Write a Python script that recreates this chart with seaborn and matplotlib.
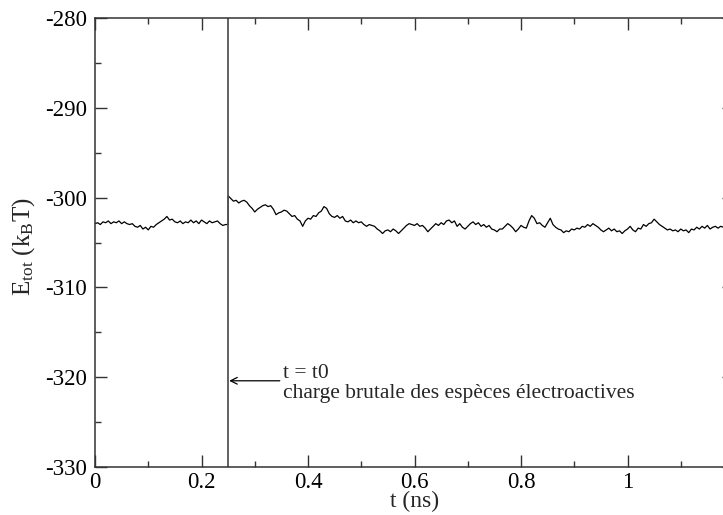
import numpy as np
import pandas as pd
import matplotlib
matplotlib.use("Agg")
import matplotlib.pyplot as plt
import seaborn as sns
from matplotlib.ticker import MultipleLocator, FixedLocator

# ---- data ----
t_step = 0.005
e_before = [
    -302.9, -302.8, -303.0, -302.7, -302.8, -302.6, -302.9, -302.7, -302.8, -302.6,
    -302.9, -302.7, -302.9, -303.0, -302.9, -303.2, -303.3, -303.1, -303.5, -303.3,
    -303.6, -303.2, -303.3, -303.0, -302.8, -302.6, -302.4, -302.1, -302.5, -302.4,
    -302.7, -302.8, -302.6, -302.9, -302.7, -302.8, -302.5, -302.8, -302.6, -302.9,
    -302.5, -302.7, -302.9, -302.6, -302.8, -302.7, -302.6, -302.9, -303.1, -303.0,
    -303.0,
]
e_after = [
    -299.8,
    -300.1, -300.4, -300.3, -300.6, -300.4, -300.3, -300.5, -300.9, -301.2, -301.6,
    -301.3, -301.1, -300.9, -300.8, -301.0, -300.9, -301.3, -301.9, -301.7, -301.6,
    -301.4, -301.5, -301.8, -302.1, -302.0, -302.4, -302.6, -303.2, -302.6, -302.3,
    -302.4, -302.0, -302.1, -301.7, -301.5, -301.0, -301.2, -301.8, -302.1, -302.2,
    -302.0, -302.3, -302.1, -302.6, -302.7, -302.5, -302.8, -302.6, -302.8, -302.7,
    -303.0, -303.2, -303.0, -303.1, -303.2, -303.5, -303.7, -304.0, -303.7, -303.6,
    -303.8, -303.5, -303.7, -304.0, -303.7, -303.4, -303.1, -302.9, -303.0, -303.1,
    -302.9, -303.2, -303.1, -303.4, -303.8, -303.5, -303.2, -302.9, -303.1, -302.8,
    -303.0, -302.6, -302.5, -302.8, -302.6, -303.2, -302.9, -303.3, -303.5, -303.2,
    -302.9, -302.7, -303.0, -302.8, -303.2, -303.0, -303.3, -303.1, -303.5, -303.6,
    -303.8, -303.5, -303.5, -303.2, -302.9, -303.1, -303.4, -303.8, -303.5, -303.1,
    -303.3, -303.4, -302.6, -302.0, -302.3, -302.9, -302.8, -303.1, -303.3, -302.8,
    -302.3, -303.0, -303.3, -303.5, -303.6, -303.9, -303.7, -303.8, -303.5, -303.6,
    -303.4, -303.5, -303.2, -303.3, -303.0, -303.2, -302.9, -303.1, -303.3, -303.6,
    -303.8, -303.6, -303.4, -303.7, -303.5, -303.8, -303.7, -304.0, -303.7, -303.5,
    -303.2, -303.6, -303.8, -303.4, -303.5, -303.0, -303.2, -302.9, -302.8, -302.4,
    -302.7, -303.0, -303.2, -303.4, -303.6, -303.5, -303.7, -303.6, -303.8, -303.5,
    -303.7, -303.6, -303.9, -303.5, -303.6, -303.3, -303.5, -303.2, -303.4, -303.1,
    -303.5, -303.3, -303.2, -303.4, -303.2, -303.3, -303.1, -303.4, -303.3, -303.2,
]
t0 = 0.25
x_ticks = [0, 0.2, 0.4, 0.6, 0.8, 1.0]
x_tick_labels = ["0", "0.2", "0.4", "0.6", "0.8", "1"]
annot_lines = ["t = t0", "charge brutale des espèces électroactives"]
x_label = "t (ns)"
y_label = r"E$_{\mathrm{tot}}$ (k$_{\mathrm{B}}$T)"

t_before = np.arange(len(e_before)) * t_step
t_after = t0 + np.arange(len(e_after)) * t_step
df = pd.DataFrame({
    "t": np.concatenate([t_before, t_after]),
    "E": np.array(e_before + e_after),
})

# ---- style ----
sns.set_theme(style="ticks")
plt.rcParams["font.family"] = ["Liberation Serif", "DejaVu Serif"]
plt.rcParams["mathtext.fontset"] = "custom"
plt.rcParams["mathtext.rm"] = "Liberation Serif"
plt.rcParams["mathtext.it"] = "Liberation Serif:italic"
plt.rcParams["axes.unicode_minus"] = False

fig = plt.figure(figsize=(7.23, 5.15), dpi=100)
ax = fig.add_axes([95 / 723, 48 / 515, 639 / 723, 449 / 515])

sns.lineplot(data=df, x="t", y="E", color="black", linewidth=0.9, ax=ax,
             estimator=None, sort=False)

ax.axvline(t0, color="#555555", linewidth=1.3)

ax.set_xlim(0, 1.2)
ax.set_ylim(-330, -280)
ax.xaxis.set_major_locator(FixedLocator(x_ticks))
ax.set_xticklabels(x_tick_labels)
ax.xaxis.set_minor_locator(MultipleLocator(0.1))
ax.yaxis.set_major_locator(MultipleLocator(10))
ax.yaxis.set_minor_locator(MultipleLocator(5))

ax.tick_params(which="both", direction="in", top=True, right=True,
               color="#333333", width=1.0, labelsize=16.5, labelcolor="black")
ax.tick_params(which="major", length=8.6, pad=6)
ax.tick_params(axis="x", which="major", pad=3.5)
ax.tick_params(which="minor", length=4.3)
for s in ax.spines.values():
    s.set_color("#333333")
    s.set_linewidth(1.1)

ax.set_xlabel(x_label, fontsize=17)
ax.xaxis.set_label_coords(0.5, -0.054)
ax.set_ylabel(y_label, fontsize=18)
ax.yaxis.set_label_coords(-0.09, 0.49)

ax.annotate("", xy=(0.252, -320.4), xytext=(0.347, -320.4),
            arrowprops=dict(arrowstyle="->", color="black", lw=0.9,
                            shrinkA=0, shrinkB=0))
ax.text(0.353, -319.6, annot_lines[0], fontsize=15.5, va="center", ha="left")
ax.text(0.353, -321.8, annot_lines[1], fontsize=15.5, va="center", ha="left")

fig.savefig("out.png", dpi=100)
